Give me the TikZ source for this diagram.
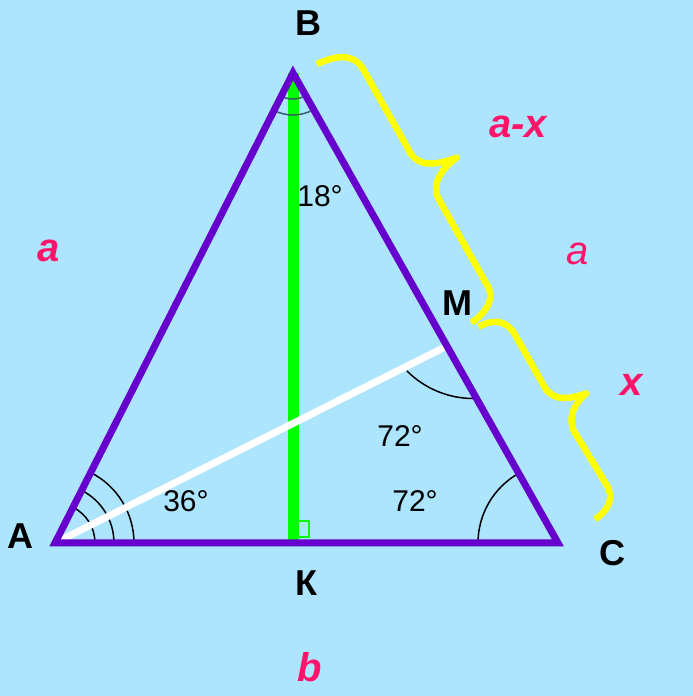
\documentclass[tikz,border=0pt]{standalone}
\usepackage{fontspec}
\setmainfont{Liberation Sans}
\definecolor{bgblue}{RGB}{173,228,254}
\definecolor{sidepurple}{RGB}{102,0,204}
\definecolor{altgreen}{RGB}{0,255,0}
\definecolor{bracketyellow}{RGB}{255,255,0}
\definecolor{labelpink}{RGB}{255,20,105}
\definecolor{arcgray}{RGB}{55,95,105}
\begin{document}
\begin{tikzpicture}[x=1pt, y=1pt, line join=miter,
  vlabel/.style={font=\fontsize{36}{40}\selectfont\bfseries, inner sep=0pt},
  deg/.style={font=\fontsize{30}{34}\selectfont, inner sep=0pt},
  plabel/.style={text=labelpink, font=\fontsize{40}{44}\selectfont\bfseries\itshape, inner sep=0pt},
  anglearc/.style={black, line width=1.5pt},
  bracket/.style={bracketyellow, line width=6.5pt, line join=round}]
  \fill[bgblue] (0,0) rectangle (693,696);
  \coordinate (A) at (55,153);
  \coordinate (B) at (293,623);
  \coordinate (C) at (558,153);
  \coordinate (K) at (293,153);
  \coordinate (M) at (447,350);
  % Angle marks at A, C and M
  \draw[anglearc] (A) ++(0:40) arc[start angle=0, end angle=63, radius=40];
  \draw[anglearc] (A) ++(0:59) arc[start angle=0, end angle=63, radius=59];
  \draw[anglearc] (A) ++(0:79) arc[start angle=0, end angle=63, radius=79];
  \draw[anglearc] (C) ++(180:80) arc[start angle=180, end angle=119.4, radius=80];
  \draw[anglearc] (407,325) arc[start angle=225, end angle=270, radius=94];
  % Altitude BK with right angle
  \draw[altgreen, line width=11pt] (B) -- (K);
  \draw[altgreen, line width=1.6pt] ([yshift=6pt]K) rectangle ++(16,16);
  \draw[arcgray, line width=1.5pt] (B) ++(243:26) arc[start angle=243, end angle=299.4, radius=26];
  \draw[arcgray, line width=1.5pt] (B) ++(243:42) arc[start angle=243, end angle=299.4, radius=42];
  % Bisector AM and triangle
  \draw[white, line width=7pt] (A) -- (M);
  \draw[sidepurple, line width=7pt] (A) -- (B) -- (C) -- cycle;
  % Braces along BC
  \begin{scope}[shift={(B)}, rotate=-60.6]
    \draw[bracket] (4,25) .. controls (6,50) and (14,62) .. (30,63) -- (128,63)
      .. controls (144,64) and (151,80) .. (154,101)
      .. controls (157,80) and (165,66) .. (181,65) -- (282,65)
      .. controls (296,65) and (304,50) .. (305,33);
    \draw[bracket] (312,37) .. controls (313,55) and (320,64) .. (336,65) -- (398,65)
      .. controls (414,66) and (420,80) .. (423,98)
      .. controls (426,84) and (434,70) .. (450,69) -- (512,71)
      .. controls (528,72) and (536,60) .. (537,44);
  \end{scope}
  % Labels
  \node[vlabel] (lA) at (20,160) {А};
  \node[vlabel] (lB) at (308.5,672.5) {В};
  \node[vlabel] (lC) at (612,143) {С};
  \node[vlabel] (lK) at (306.5,112.5) {К};
  \node[vlabel] (lM) at (457,393) {М};
  \node[deg] (d18) at (320,500) {18°};
  \node[deg] (d36) at (186,195) {36°};
  \node[deg] (d72a) at (400,260) {72°};
  \node[deg] (d72b) at (415,195) {72°};
  \node[plabel] (sa) at (49,445) {a};
  \node[plabel] (sax) at (518,569) {a-x};
  \node[plabel, font=\fontsize{40}{44}\selectfont\itshape] (sa2) at (578,442) {a};
  \node[plabel] (sx) at (632,311) {x};
  \node[plabel] (sb) at (310,29) {b};
\end{tikzpicture}
\end{document}
